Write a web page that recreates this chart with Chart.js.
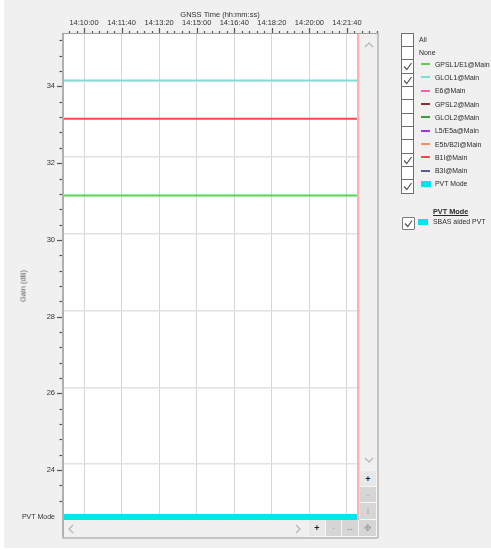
<!DOCTYPE html>
<html><head><meta charset="utf-8">
<script src="https://cdn.jsdelivr.net/npm/chart.js@4"></script>
<style>
html,body{margin:0;padding:0;}
body{width:491px;height:550px;background:#fff;position:relative;overflow:hidden;font-family:"Liberation Sans",Arial,sans-serif;color:#222;}
#bg{position:absolute;left:4px;top:0;right:0;bottom:2px;background:#f0f0f0;}
#c{position:absolute;left:0;top:0;}
.a{position:absolute;}
.ln{position:absolute;}
.btn{position:absolute;box-sizing:border-box;border-right:1px solid #f6f6f6;border-bottom:1px solid #f6f6f6;font-size:9px;line-height:16px;text-align:center;}
.cb{position:absolute;left:401px;width:13px;height:14.33px;box-sizing:border-box;border:1px solid #6e6e6e;background:#fff;}
.lt{position:absolute;font-size:6.9px;white-space:nowrap;line-height:9px;color:#2a2a2a;}
.sw{position:absolute;height:2px;}
#ytitle{position:absolute;left:22.7px;top:286px;font-size:7.5px;font-weight:normal;color:#5a5a5a;white-space:nowrap;transform:translate(-50%,-50%) rotate(-90deg);}
</style></head>
<body>
<div id="bg"></div>
<canvas id="c" width="491" height="550"></canvas>
<div id="ytitle">Gain (dB)</div>
<!-- scroll areas -->
<div class="a" style="left:360px;top:34px;width:17px;height:486px;background:#f0f0f0;"></div>
<div class="a" style="left:64px;top:520px;width:313px;height:17px;background:#f0f0f0;"></div>
<svg class="a" style="left:364px;top:42px" width="10" height="6"><polyline points="1,5 5,1 9,5" fill="none" stroke="#b4b4b4" stroke-width="1.2"/></svg>
<svg class="a" style="left:364px;top:457px" width="10" height="6"><polyline points="1,1 5,5 9,1" fill="none" stroke="#b4b4b4" stroke-width="1.2"/></svg>
<svg class="a" style="left:68px;top:524px" width="6" height="10"><polyline points="5,1 1,5 5,9" fill="none" stroke="#b4b4b4" stroke-width="1.2"/></svg>
<svg class="a" style="left:295px;top:524px" width="6" height="10"><polyline points="1,1 5,5 1,9" fill="none" stroke="#b4b4b4" stroke-width="1.2"/></svg>
<div class="btn" style="left:360px;top:471px;width:17px;height:16px;background:#e8e8e8;color:#222;font-weight:bold;">+</div>
<div class="btn" style="left:360px;top:487px;width:17px;height:16px;background:#d6d6d6;color:#b0b0b0;">-</div>
<div class="btn" style="left:360px;top:503px;width:17px;height:17px;background:#d6d6d6;color:#9a9a9a;">↕</div>
<div class="btn" style="left:309px;top:520px;width:17px;height:17px;background:#e8e8e8;color:#222;font-weight:bold;">+</div>
<div class="btn" style="left:326px;top:520px;width:16px;height:17px;background:#d6d6d6;color:#b0b0b0;">-</div>
<div class="btn" style="left:342px;top:520px;width:17px;height:17px;background:#d6d6d6;color:#9a9a9a;">↔</div>
<div class="btn" style="left:359px;top:520px;width:18px;height:17px;background:#d6d6d6;color:#9a9a9a;">✥</div>
<!-- frame lines -->
<div class="ln" style="left:62px;top:33px;width:2px;height:505px;background:#b0b0b0;"></div>
<div class="ln" style="left:62px;top:33px;width:316px;height:1px;background:#a0a0a0;"></div>
<div class="ln" style="left:377px;top:33px;width:1.5px;height:505px;background:#c4c4c4;"></div>
<div class="ln" style="left:62px;top:537px;width:316px;height:1.5px;background:#c4c4c4;"></div>
<div id="legend"></div>
<script>
// ---------- data ----------
const times     = ['14:09:04','14:10:00','14:11:40','14:13:20','14:15:00','14:16:40','14:18:20','14:20:00','14:21:40','14:22:10'];
const gpsL1E1   = [31, 31, 31, 31, 31, 31, 31, 31, 31, 31];
const gloL1     = [34, 34, 34, 34, 34, 34, 34, 34, 34, 34];
const b1i       = [33, 33, 33, 33, 33, 33, 33, 33, 33, 33];
const pvtMode   = ['PVT Mode','PVT Mode','PVT Mode','PVT Mode','PVT Mode','PVT Mode','PVT Mode','PVT Mode','PVT Mode','PVT Mode'];
const cursorTime = '14:22:10';
const xRange    = ['14:09:04', '14:23:00'];
const yRange    = [22.70, 35.21];
const timeTicks = ['14:10:00','14:11:40','14:13:20','14:15:00','14:16:40','14:18:20','14:20:00','14:21:40'];
const yTicks    = [24, 26, 28, 30, 32, 34];
const pvtRows   = ['PVT Mode'];
const legendLabels  = ['All','None','GPSL1/E1@Main','GLOL1@Main','E6@Main','GPSL2@Main','GLOL2@Main','L5/E5a@Main','E5b/B2I@Main','B1I@Main','B3I@Main','PVT Mode'];
const legendColors  = [null, null, '#4fd84f','#80dcd4','#ff5cb0','#9a2a2a','#3e9a3e','#a834e0','#ff8a5a','#ff4646','#5a5a9e','#00e6f0'];
const legendChecked = [false,false,true,true,false,false,false,false,false,true,false,true];

// ---------- helpers ----------
const toSec = s => { const p = s.split(':').map(Number); return p[0]*3600 + p[1]*60 + p[2]; };
const pad = n => String(n).padStart(2,'0');
const fmt = v => { v = Math.round(v); return pad(Math.floor(v/3600)) + ':' + pad(Math.floor(v%3600/60)) + ':' + pad(v%60); };
const pts = arr => times.map((t,i) => ({x: toSec(t), y: arr[i]}));

// ---------- legend (HTML) ----------
(function(){
  const L = document.getElementById('legend');
  let h = '';
  const top0 = 32.7, rh = 13.33;
  legendLabels.forEach((lab,i) => {
    const t = top0 + i*rh;
    h += `<div class="cb" style="top:${t}px">` + (legendChecked[i] ? `<svg width="11" height="12" style="position:absolute;left:0;top:0"><polyline points="2,6.5 4.8,9.5 9.5,3" fill="none" stroke="#555" stroke-width="1.2"/></svg>` : '') + `</div>`;
    const c = t + rh/2;
    if (legendColors[i] === null) {
      h += `<div class="lt" style="left:419px;top:${c-4.5}px">${lab}</div>`;
    } else {
      const cy = c - 2;
      if (lab === 'PVT Mode') h += `<div class="a" style="left:421px;top:${cy-3}px;width:10px;height:6px;background:${legendColors[i]}"></div>`;
      else h += `<div class="sw" style="left:421px;top:${cy-1}px;width:9px;background:${legendColors[i]}"></div>`;
      h += `<div class="lt" style="left:435px;top:${cy-4.5}px">${lab}</div>`;
    }
  });
  h += `<div class="lt" style="left:433px;top:207px;font-weight:bold;text-decoration:underline;font-size:7.3px">PVT Mode</div>`;
  h += `<div class="a" style="left:402px;top:216.5px;width:13px;height:13px;box-sizing:border-box;border:1.5px solid #7a7a7a;border-radius:1px;background:#fff"><svg width="11" height="11" style="position:absolute;left:0;top:0"><polyline points="2,5.5 4.8,8.5 9,2.5" fill="none" stroke="#555" stroke-width="1.2"/></svg></div>`;
  h += `<div class="a" style="left:418px;top:219px;width:10px;height:6px;background:#00e6f0"></div>`;
  h += `<div class="lt" style="left:433px;top:216.5px">SBAS aided PVT</div>`;
  L.innerHTML = h;
})();

// ---------- chart ----------
Chart.defaults.font.family = '"Liberation Sans", Arial, sans-serif';
Chart.defaults.font.size = 7.5;
Chart.defaults.color = '#333';

const deco = {
  id: 'deco',
  beforeDraw(chart) {
    const {ctx, chartArea: a} = chart;
    ctx.save(); ctx.fillStyle = '#fff'; ctx.fillRect(a.left, a.top, a.right - a.left, a.bottom - a.top); ctx.restore();
  },
  afterDatasetsDraw(chart) {
    const {ctx, chartArea: a} = chart;
    const xs = chart.scales.x;
    const cx = xs.getPixelForValue(toSec(cursorTime));
    ctx.save();
    ctx.strokeStyle = '#ffb0b0'; ctx.lineWidth = 2.5;
    ctx.beginPath(); ctx.moveTo(cx, a.top); ctx.lineTo(cx, a.bottom); ctx.stroke();
    ctx.restore();
  },
  afterDraw(chart) {
    const {ctx} = chart;
    const ys = chart.scales.y, xs = chart.scales.x;
    ctx.save();
    ctx.strokeStyle = '#555'; ctx.lineWidth = 1.2;
    for (let k = Math.ceil(ys.min / 0.4); k * 0.4 <= ys.max + 1e-9; k++) {
      const v = k * 0.4;
      const major = Math.abs(v / 2 - Math.round(v / 2)) < 1e-6;
      const p = ys.getPixelForValue(v) + 6;
      if (p < ys.top + 3 || p > ys.bottom - 1) continue;
      ctx.beginPath(); ctx.moveTo(ys.right - (major ? 6 : 3.5), Math.round(p) + 0.5); ctx.lineTo(ys.right, Math.round(p) + 0.5); ctx.stroke();
    }
    for (let v = Math.ceil(xs.min / 20) * 20; v <= xs.max + 1e-9; v += 20) {
      const major = v % 100 === 0;
      const p = Math.round(xs.getPixelForValue(v)) + 0.5;
      ctx.beginPath(); ctx.moveTo(p, xs.bottom - (major ? 6 : 3)); ctx.lineTo(p, xs.bottom - 1); ctx.stroke();
    }
    ctx.restore();
  }
};

new Chart(document.getElementById('c'), {
  type: 'line',
  data: {
    datasets: [
      {label: 'GPSL1/E1@Main', data: pts(gpsL1E1), borderColor: legendColors[2], borderWidth: 2, pointRadius: 0, yAxisID: 'y'},
      {label: 'GLOL1@Main',    data: pts(gloL1),   borderColor: legendColors[3], borderWidth: 2, pointRadius: 0, yAxisID: 'y'},
      {label: 'B1I@Main',      data: pts(b1i),     borderColor: legendColors[9], borderWidth: 2, pointRadius: 0, yAxisID: 'y'},
      {label: 'PVT Mode',      data: pts(pvtMode), borderColor: legendColors[11], borderWidth: 6, pointRadius: 0, yAxisID: 'yPvt'}
    ]
  },
  options: {
    responsive: false,
    animation: false,
    events: [],
    layout: {padding: {left: 0, top: 0, right: 114, bottom: 30}},
    plugins: {legend: {display: false}, tooltip: {enabled: false}},
    scales: {
      x: {
        type: 'linear', position: 'top',
        min: toSec(xRange[0]), max: toSec(xRange[1]),
        afterBuildTicks: s => { s.ticks = timeTicks.map(t => ({value: toSec(t)})); },
        afterFit: s => { s.height = 34; },
        grid: {color: '#d6d6d6', lineWidth: 1, drawTicks: false},
        border: {display: false},
        ticks: {padding: 7, maxRotation: 0, autoSkip: false, callback: v => fmt(v)},
        title: {display: true, text: 'GNSS Time (hh:mm:ss)', padding: {top: 10, bottom: 0}}
      },
      yPvt: {
        type: 'category', labels: pvtRows, offset: true,
        position: 'left', stack: 'left', stackWeight: 1,
        afterFit: s => { s.width = 63; },
        grid: {display: false, drawTicks: false},
        border: {display: false},
        ticks: {padding: 8, font: {size: 7}}
      },
      y: {
        type: 'linear', position: 'left', stack: 'left', stackWeight: 80,
        min: yRange[0], max: yRange[1],
        afterBuildTicks: s => { s.ticks = yTicks.map(v => ({value: v})); },
        afterFit: s => { s.width = 63; },
        grid: {color: '#e2e2e2', lineWidth: 1.5, drawTicks: false},
        border: {display: false},
        ticks: {padding: 8, labelOffset: 6}
      }
    }
  },
  plugins: [deco]
});
</script>
</body></html>
